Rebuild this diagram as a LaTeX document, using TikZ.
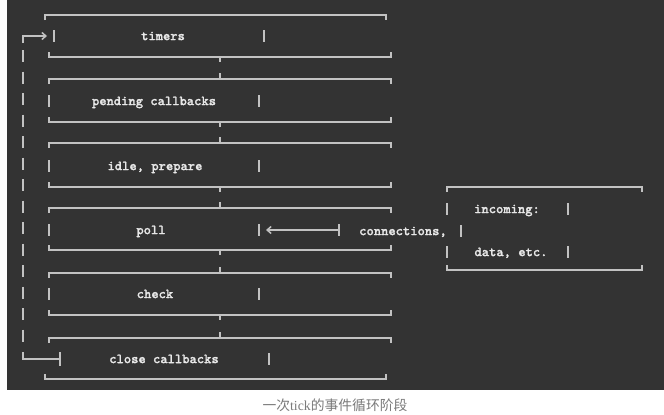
\documentclass[tikz,border=0pt]{standalone}
\usepackage{fontspec}
\newfontfamily\cjkfont{Noto Sans CJK SC}
\newfontfamily\seriflat{Liberation Serif}
\newfontfamily\monobold{lmmonolt10-bold.otf}[FakeBold=1.3]
\usetikzlibrary{arrows.meta}
\definecolor{bgdark}{HTML}{333333}
\definecolor{lncol}{HTML}{C2C2C2}
\definecolor{txcol}{HTML}{E8E8E8}
\definecolor{capcol}{HTML}{7A7A7A}
\begin{document}
\begin{tikzpicture}[x=1pt,y=-1pt,
  ln/.style={draw=lncol,line width=1.5pt},
  lbl/.style={text=txcol,font=\fontsize{13.9}{15}\selectfont\monobold,anchor=mid,inner sep=0pt},
  tip/.style={-{Straight Barb[length=4pt,width=7pt,line width=1.5pt]}}]
\useasboundingbox (0,0) rectangle (664,415);
\fill[white] (0,0) rectangle (664,415);
\fill[bgdark] (7,0) rectangle (664,390);

% timers box
\draw[ln] (45,20) -- (45,15) -- (386,15) -- (386,20);
\draw[ln] (49,52) -- (49,57) -- (391,57) -- (391,52);
% middle boxes
\foreach \t/\b in {79/122,143/187,208/250,273/315}{
  \draw[ln] (49,\t+5) -- (49,\t) -- (391,\t) -- (391,\t+5);
  \draw[ln] (49,\b-5) -- (49,\b) -- (391,\b) -- (391,\b-5);
}
% close callbacks box
\draw[ln] (49,343) -- (49,338) -- (391,338) -- (391,343);
\draw[ln] (45,374) -- (45,379) -- (386,379) -- (386,374);
% centre junctions
\foreach \b in {57,122,187,250,315}{\draw[ln] (220,\b) -- (220,\b+5);}
\foreach \t in {79,143,208,273,338}{\draw[ln] (220,\t) -- (220,\t-6);}
% vertical bars
\foreach \x/\y in {54/36,264/36,49/101,259/101,49/166,259/166,49/230,259/230,49/294,259/294,269/359,447/209,568/209,461/231,447/252,568/252}{
  \draw[ln] (\x,\y-6) -- (\x,\y+6);}
% incoming box
\draw[ln] (447,192) -- (447,187) -- (642,187) -- (642,192);
\draw[ln] (447,265) -- (447,270) -- (642,270) -- (642,265);

% labels
\node[lbl] (timers) at (163,38) {timers};
\node[lbl] (pending) at (154,103) {pending callbacks};
\node[lbl] (idle) at (155,168) {idle, prepare};
\node[lbl] (poll) at (151,232) {poll};
\node[lbl] (check) at (155,296) {check};
\node[lbl] (close) at (164,361) {close callbacks};
\node[lbl] (incoming) at (507,211) {incoming:};
\node[lbl] (connections) at (403,233) {connections,};
\node[lbl] (data) at (511,254) {data, etc.};

% connection arrow into poll
\coordinate (connbar) at (339,230);
\coordinate (pollport) at (266,230);
\draw[ln] (339,224) -- (339,236);
\draw[ln,tip] (connbar) -- (pollport);

% loop back from close callbacks to timers
\coordinate (closeport) at (60,359);
\coordinate (timersport) at (47,36);
\draw[ln] (60,352) -- (60,366);
\draw[ln] (closeport) -- (23,359) -- (23,352);
\draw[ln,dash pattern=on 12pt off 9.5pt] (23,50) -- (23,343);
\draw[ln,tip] (23,43) -- (23,36) -- (timersport);

% caption
\node[font=\cjkfont\fontsize{13.8}{15}\selectfont,text=capcol,inner sep=0pt] (caption) at (335,405) {一次{\seriflat tick}的事件循环阶段};
\end{tikzpicture}
\end{document}
